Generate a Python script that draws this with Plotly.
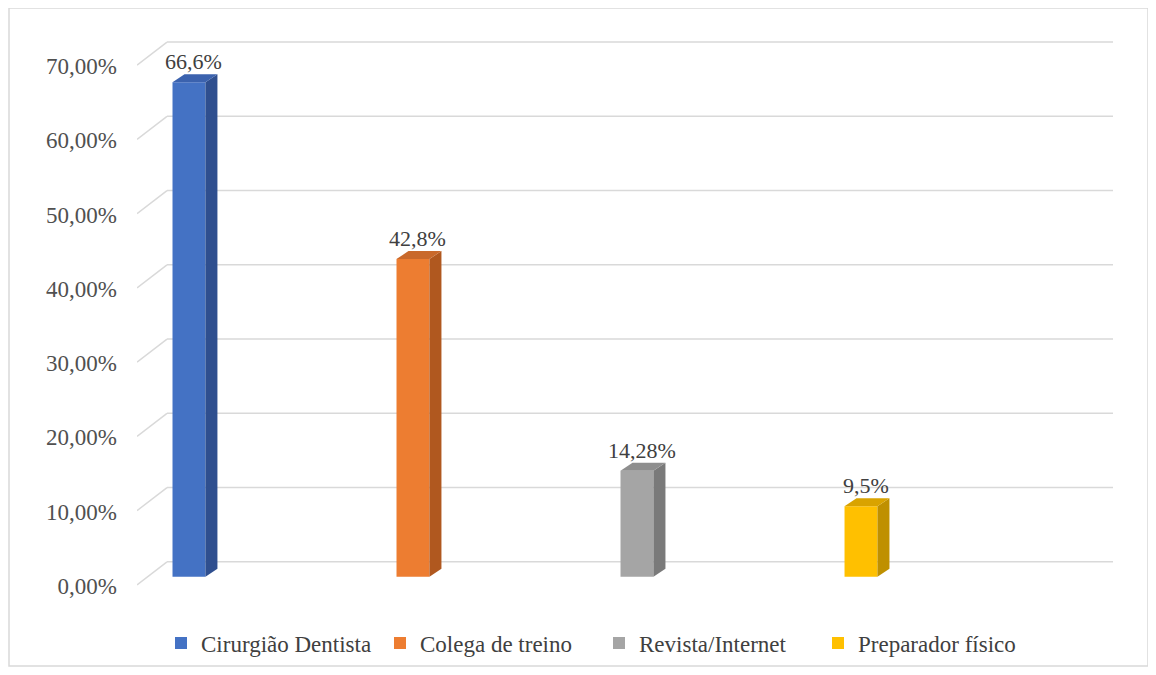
import plotly.graph_objects as go

# ---------------- data ----------------
categories = ["Cirurgião Dentista", "Colega de treino", "Revista/Internet", "Preparador físico"]
values = [0.666, 0.428, 0.1428, 0.095]
value_labels = ["66,6%", "42,8%", "14,28%", "9,5%"]
tick_vals = [0.0, 0.1, 0.2, 0.3, 0.4, 0.5, 0.6, 0.7]
tick_text = ["0,00%", "10,00%", "20,00%", "30,00%", "40,00%", "50,00%", "60,00%", "70,00%"]

# ---------------- styles ----------------
front_colors = ["#4472C4", "#ED7D31", "#A5A5A5", "#FFC000"]
side_colors = ["#2F4F8F", "#B0581F", "#7A7A7A", "#BF9000"]
top_colors = ["#3B62AE", "#C9692B", "#8E8E8E", "#D9A300"]
FONT = "Liberation Serif, Times New Roman, serif"

# page body has an 8px margin; figure coordinates are offset accordingly
OFF = 8
W, H = 1148, 659
PLOT_L, PLOT_R, PLOT_T, PLOT_B = 137 - OFF, 1113 - OFF, 20 - OFF, 588 - OFF
X_RANGE = [-0.232, 4.125]
Y_RANGE = [-0.015, 0.75]
px_x = (PLOT_R - PLOT_L) / (X_RANGE[1] - X_RANGE[0])
px_y = (PLOT_B - PLOT_T) / (Y_RANGE[1] - Y_RANGE[0])
BAR_W = 0.147
DX, DY = 12 / px_x, 8 / px_y          # bar depth
WALL_DX = 30 / px_x                    # side-wall depth
FRONT_DY, BACK_DY = 8 / px_y, 15 / px_y

xs = list(range(len(categories)))

fig = go.Figure()

# front faces
for i, (c, v) in enumerate(zip(categories, values)):
    fig.add_trace(go.Bar(x=[xs[i]], y=[v], width=BAR_W, name=c,
                         marker=dict(color=front_colors[i], line=dict(width=0)),
                         showlegend=True, hoverinfo="skip"))

# side and top faces (3D effect)
for i, v in enumerate(values):
    xl = xs[i] - BAR_W / 2
    xr = xs[i] + BAR_W / 2
    fig.add_trace(go.Scatter(
        x=[xr, xr + DX, xr + DX, xr, xr], y=[0, DY, v + DY, v, 0],
        fill="toself", fillcolor=side_colors[i], mode="lines",
        line=dict(width=0, color=side_colors[i]), showlegend=False, hoverinfo="skip"))
    fig.add_trace(go.Scatter(
        x=[xl, xl + DX, xr + DX, xr, xl], y=[v, v + DY, v + DY, v, v],
        fill="toself", fillcolor=top_colors[i], mode="lines",
        line=dict(width=0, color=top_colors[i]), showlegend=False, hoverinfo="skip"))

# grid: side wall diagonals + back wall lines
shapes = []
for t in tick_vals:
    shapes.append(dict(type="line", xref="x", yref="y", layer="below",
                       x0=X_RANGE[0], y0=t - FRONT_DY, x1=X_RANGE[0] + WALL_DX, y1=t + BACK_DY,
                       line=dict(color="#D9D9D9", width=1.5)))
    shapes.append(dict(type="line", xref="x", yref="y", layer="below",
                       x0=X_RANGE[0] + WALL_DX, y0=t + BACK_DY, x1=X_RANGE[1], y1=t + BACK_DY,
                       line=dict(color="#D9D9D9", width=1.5)))
# outer border
shapes.append(dict(type="rect", xref="paper", yref="paper",
                   x0=(1 - PLOT_L) / (PLOT_R - PLOT_L), x1=(1140 - PLOT_L) / (PLOT_R - PLOT_L),
                   y0=(PLOT_B - 658) / (PLOT_B - PLOT_T), y1=(PLOT_B - 0) / (PLOT_B - PLOT_T),
                   line=dict(color="#D9D9D9", width=1.5)))

annotations = []
for i, v in enumerate(values):
    annotations.append(dict(x=xs[i], y=v, xref="x", yref="y", text=value_labels[i],
                            showarrow=False, yanchor="bottom", yshift=6, xshift=5,
                            font=dict(family=FONT, size=22, color="#404040")))

fig.update_layout(
    width=W, height=H,
    margin=dict(l=PLOT_L, r=W - PLOT_R, t=PLOT_T, b=H - PLOT_B, autoexpand=False),
    paper_bgcolor="white", plot_bgcolor="white",
    barmode="overlay",
    shapes=shapes, annotations=annotations,
    showlegend=True,
    legend=dict(orientation="h", x=(161 - OFF - PLOT_L) / (PLOT_R - PLOT_L), xanchor="left",
                y=(PLOT_B - (643 - OFF)) / (PLOT_B - PLOT_T),
                yanchor="middle", font=dict(family=FONT, size=23, color="#404040"),
                entrywidth=174, entrywidthmode="pixels",
                traceorder="normal", itemclick=False, bgcolor="rgba(0,0,0,0)"),
    xaxis=dict(range=X_RANGE, showgrid=False, zeroline=False, showticklabels=False,
               showline=False, fixedrange=True, automargin=False),
    yaxis=dict(range=Y_RANGE, showgrid=False, zeroline=False, showline=False,
               tickvals=tick_vals, ticktext=tick_text, ticks="",
               ticklabelshift=9, ticklabelstandoff=19, automargin=False,
               tickfont=dict(family=FONT, size=23, color="#505050"), fixedrange=True),
)

fig.write_html("out.html")
